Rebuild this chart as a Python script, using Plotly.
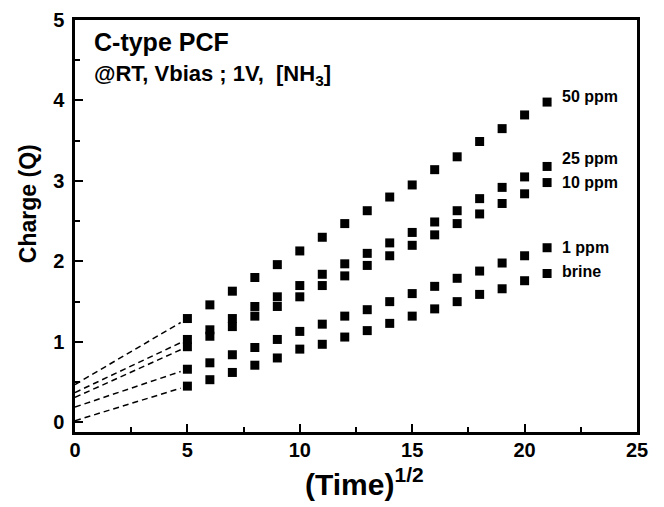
import plotly.graph_objects as go

time_sqrt = [5, 6, 7, 8, 9, 10, 11, 12, 13, 14, 15, 16, 17, 18, 19, 20, 21]

series_names = ["50 ppm", "25 ppm", "10 ppm", "1 ppm", "brine"]

q_50ppm = [1.29, 1.46, 1.63, 1.80, 1.96, 2.13, 2.30, 2.47, 2.63, 2.80, 2.95, 3.14, 3.30, 3.49, 3.65, 3.82, 3.98]
q_25ppm = [1.03, 1.15, 1.29, 1.44, 1.56, 1.70, 1.84, 1.97, 2.10, 2.23, 2.36, 2.49, 2.63, 2.78, 2.92, 3.05, 3.18]
q_10ppm = [0.94, 1.07, 1.19, 1.32, 1.44, 1.56, 1.70, 1.82, 1.95, 2.07, 2.20, 2.33, 2.47, 2.59, 2.72, 2.84, 2.98]
q_1ppm = [0.66, 0.74, 0.84, 0.93, 1.03, 1.13, 1.22, 1.32, 1.40, 1.50, 1.60, 1.69, 1.79, 1.88, 1.98, 2.07, 2.17]
q_brine = [0.45, 0.53, 0.62, 0.71, 0.80, 0.91, 0.97, 1.06, 1.14, 1.23, 1.32, 1.41, 1.50, 1.59, 1.66, 1.76, 1.85]

# extrapolated intercepts at t = 0 (dashed fit lines)
fit_intercepts = [0.47, 0.37, 0.31, 0.19, 0.02]
fit_end_t = 4.7

x_ticks = [0, 5, 10, 15, 20, 25]
y_ticks = [0, 1, 2, 3, 4, 5]

all_series = [q_50ppm, q_25ppm, q_10ppm, q_1ppm, q_brine]
label_yshift = [6, 8, 0, 0, 2]

FONT = "Liberation Sans, Arial, sans-serif"

fig = go.Figure()

for name, vals, b0 in zip(series_names, all_series, fit_intercepts):
    slope = (vals[0] - b0) / time_sqrt[0]
    fig.add_trace(go.Scatter(
        x=[0, fit_end_t], y=[b0, b0 + slope * fit_end_t],
        mode="lines", line=dict(color="black", width=1.5, dash="6px,4px"),
        showlegend=False, hoverinfo="skip"))
    fig.add_trace(go.Scatter(
        x=time_sqrt, y=vals, mode="markers", name=name,
        marker=dict(symbol="square", size=9, color="black"),
        showlegend=False))

for name, vals, ys in zip(series_names, all_series, label_yshift):
    fig.add_annotation(x=time_sqrt[-1], y=vals[-1], text=name, showarrow=False,
                       xanchor="left", yanchor="middle", xshift=13, yshift=ys,
                       font=dict(family=FONT, size=16, color="black", weight="bold"))

fig.add_annotation(xref="paper", yref="paper", x=0.03, y=0.947, text="C-type PCF",
                   showarrow=False, xanchor="left", yanchor="middle",
                   font=dict(family=FONT, size=25, color="black", weight="bold"))
fig.add_annotation(xref="paper", yref="paper", x=0.03, y=0.867,
                   text="@RT, Vbias ; 1V,  [NH<sub>3</sub>]",
                   showarrow=False, xanchor="left", yanchor="middle",
                   font=dict(family=FONT, size=22, color="black", weight="bold"))

# axis titles
fig.add_annotation(xref="paper", yref="paper", x=0.516, y=0, yshift=-50,
                   text="(Time)<sup>1/2</sup>", showarrow=False,
                   xanchor="center", yanchor="middle",
                   font=dict(family=FONT, size=30, color="black", weight="bold"))
fig.add_annotation(xref="paper", yref="paper", x=0, xshift=-47, y=0.553,
                   text="Charge (Q)", showarrow=False, textangle=-90,
                   xanchor="center", yanchor="middle",
                   font=dict(family=FONT, size=23, color="black", weight="bold"))

axis_common = dict(
    showline=True, linecolor="black", linewidth=2.5, mirror=True,
    ticks="inside", ticklen=8, tickwidth=2, tickcolor="black",
    showgrid=False, zeroline=False, automargin=False,
    tickfont=dict(family=FONT, size=20, color="black", weight="bold"),
)

fig.update_xaxes(
    range=[0, 25], tickvals=x_ticks, ticklabelstandoff=-2,
    minor=dict(ticks="inside", ticklen=5, tickwidth=2, tickcolor="black", dtick=2.5, showgrid=False),
    **axis_common)
fig.update_yaxes(
    range=[-0.12, 5], tickvals=y_ticks, ticklabelstandoff=4,
    minor=dict(ticks="inside", ticklen=5, tickwidth=2, tickcolor="black", dtick=0.5, showgrid=False),
    **axis_common)

# page body adds an 8px offset, so margins are reduced on left/top
fig.update_layout(
    width=664, height=507,
    margin=dict(l=67, r=35, t=12, b=83),
    plot_bgcolor="white", paper_bgcolor="white",
    font=dict(family=FONT, color="black"),
)

fig.write_html("out.html")
